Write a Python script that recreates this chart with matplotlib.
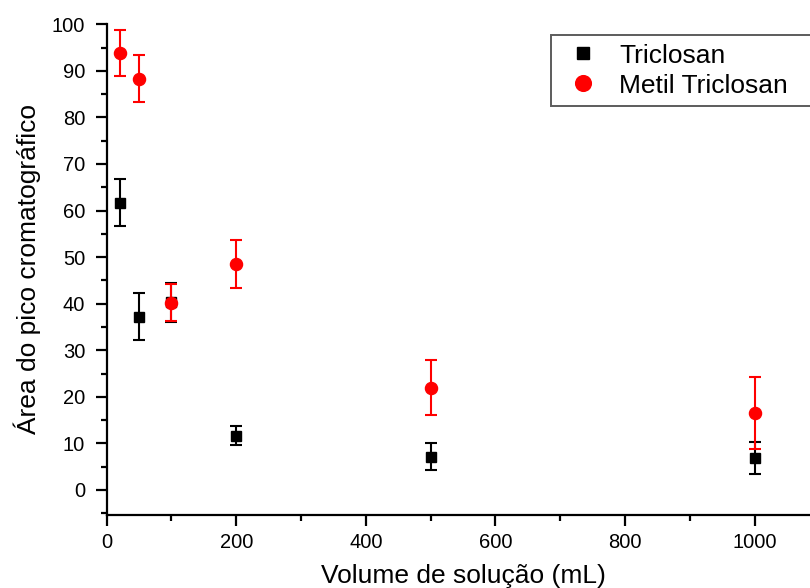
import matplotlib
matplotlib.use("Agg")
import matplotlib.pyplot as plt
from matplotlib.ticker import MultipleLocator

plt.rcParams['font.family'] = ['Liberation Sans', 'DejaVu Sans']

volumes = [20, 50, 100, 200, 500, 1000]
triclosan = [61.7, 37.2, 40.3, 11.7, 7.1, 6.8]
triclosan_err = [5.1, 5.0, 4.2, 2.0, 2.9, 3.4]
metil = [93.8, 88.3, 40.2, 48.5, 22.0, 16.5]
metil_err = [5.0, 5.0, 4.0, 5.2, 6.0, 7.8]

fig = plt.figure(figsize=(8.1, 5.88), dpi=100)
ax = fig.add_axes([0.1317, 0.1247, 0.880, 0.834])

ax.errorbar(volumes, triclosan, yerr=triclosan_err, fmt='s', color='black',
            ecolor='black', markersize=7, capsize=4.5, elinewidth=1.5,
            capthick=1.5, label='Triclosan', zorder=3)
ax.errorbar(volumes, metil, yerr=metil_err, fmt='o', color='red',
            ecolor='red', markersize=8.7, capsize=4.5, elinewidth=1.5,
            capthick=1.5, label='Metil Triclosan', zorder=4)

ax.set_xlim(0, 1100)
ax.set_ylim(-5.3, 100)
ax.xaxis.set_major_locator(MultipleLocator(200))
ax.xaxis.set_minor_locator(MultipleLocator(100))
ax.yaxis.set_major_locator(MultipleLocator(10))
ax.yaxis.set_minor_locator(MultipleLocator(5))
ax.set_yticks(range(0, 101, 10))

for s in ['top', 'right']:
    ax.spines[s].set_visible(False)
for s in ['left', 'bottom']:
    ax.spines[s].set_linewidth(1.6)

ax.tick_params(which='major', direction='out', length=8, width=1.6,
               labelsize=14.5)
ax.tick_params(axis='y', which='major', pad=7.5)
ax.tick_params(axis='x', which='major', pad=5)
ax.tick_params(which='minor', direction='out', length=4.5, width=1.6)

ax.set_xlabel('Volume de solução (mL)', fontsize=19)
ax.set_ylabel('Área do pico cromatográfico', fontsize=19)
ax.xaxis.set_label_coords(0.5, -0.101)
ax.yaxis.set_label_coords(-0.092, 0.5)

handles, labels = ax.get_legend_handles_labels()
handles = [h[0] for h in handles]
x0 = 551 / 810
y_top = 1 - 35 / 588
leg = fig.legend(handles, labels, loc='upper left',
                 bbox_to_anchor=(x0, y_top - 0.2, (850 - 551) / 810, 0.2),
                 mode='expand',
                 fontsize=19, frameon=True, fancybox=False,
                 markerscale=1.3,
                 handlelength=1.8, handletextpad=0.45, borderpad=0.33,
                 labelspacing=0.22, borderaxespad=0)
leg.get_frame().set_edgecolor('#333333')
leg.get_frame().set_linewidth(1.4)

fig.savefig('out.png', dpi=100)
